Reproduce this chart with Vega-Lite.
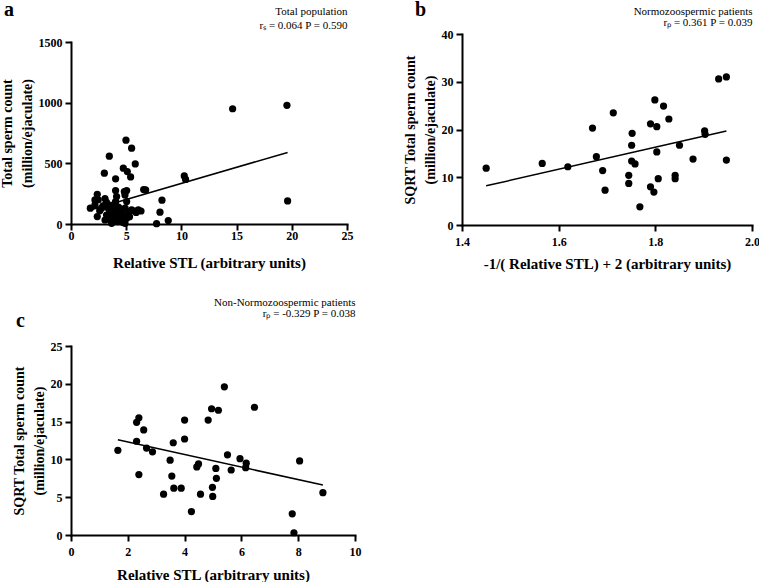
{
  "$schema": "https://vega.github.io/schema/vega-lite/v6.json",
  "background": "white",
  "padding": {"left": 0, "top": 0, "right": 0, "bottom": 0},
  "datasets": {
    "a": [
      {"stl": 14.64, "count": 950}, {"stl": 19.56, "count": 978}, {"stl": 19.62, "count": 190},
      {"stl": 4.98, "count": 691}, {"stl": 5.49, "count": 625}, {"stl": 3.47, "count": 559},
      {"stl": 5.82, "count": 495}, {"stl": 3.02, "count": 419}, {"stl": 4.74, "count": 460},
      {"stl": 5.10, "count": 432}, {"stl": 5.40, "count": 388}, {"stl": 4.04, "count": 372},
      {"stl": 10.26, "count": 396}, {"stl": 10.38, "count": 367}, {"stl": 6.58, "count": 284},
      {"stl": 6.76, "count": 281}, {"stl": 4.04, "count": 276}, {"stl": 5.04, "count": 276},
      {"stl": 4.83, "count": 268}, {"stl": 2.38, "count": 245}, {"stl": 4.89, "count": 240},
      {"stl": 8.24, "count": 196}, {"stl": 3.08, "count": 210}, {"stl": 2.17, "count": 198},
      {"stl": 2.47, "count": 200}, {"stl": 4.04, "count": 185}, {"stl": 5.04, "count": 185},
      {"stl": 4.13, "count": 226}, {"stl": 1.75, "count": 130}, {"stl": 2.77, "count": 130},
      {"stl": 8.06, "count": 97}, {"stl": 2.38, "count": 61}, {"stl": 7.75, "count": 3},
      {"stl": 8.81, "count": 28}, {"stl": 2.17, "count": 157}, {"stl": 3.38, "count": 130},
      {"stl": 3.68, "count": 152}, {"stl": 3.22, "count": 74}, {"stl": 3.38, "count": 41},
      {"stl": 3.83, "count": 53}, {"stl": 3.68, "count": 107}, {"stl": 4.04, "count": 116},
      {"stl": 3.98, "count": 171}, {"stl": 4.22, "count": 20}, {"stl": 4.44, "count": 69},
      {"stl": 4.58, "count": 33}, {"stl": 4.89, "count": 74}, {"stl": 5.04, "count": 47},
      {"stl": 5.25, "count": 97}, {"stl": 5.49, "count": 116}, {"stl": 5.80, "count": 107},
      {"stl": 6.10, "count": 116}, {"stl": 6.34, "count": 107}, {"stl": 4.89, "count": 6},
      {"stl": 3.68, "count": 6}, {"stl": 4.44, "count": 88}, {"stl": 3.08, "count": 33},
      {"stl": 2.9, "count": 150}, {"stl": 3.5, "count": 100}, {"stl": 4.3, "count": 140},
      {"stl": 3.9, "count": 60}, {"stl": 4.6, "count": 120}, {"stl": 3.2, "count": 180},
      {"stl": 5.3, "count": 60}, {"stl": 4.7, "count": 15}, {"stl": 3.6, "count": 85},
      {"stl": 2.6, "count": 110}, {"stl": 5.9, "count": 95}, {"stl": 4.1, "count": 95},
      {"stl": 3.3, "count": 165}, {"stl": 4.9, "count": 130}
    ],
    "fit_a": [{"stl": 1.75, "count": 116}, {"stl": 19.62, "count": 590}],
    "b": [
      {"inv": 1.450, "sq": 11.9}, {"inv": 1.566, "sq": 12.9}, {"inv": 1.619, "sq": 12.2},
      {"inv": 1.670, "sq": 20.3}, {"inv": 1.678, "sq": 14.3}, {"inv": 1.691, "sq": 11.4},
      {"inv": 1.696, "sq": 7.3}, {"inv": 1.713, "sq": 23.5}, {"inv": 1.745, "sq": 10.4},
      {"inv": 1.745, "sq": 8.7}, {"inv": 1.752, "sq": 19.2}, {"inv": 1.751, "sq": 16.7},
      {"inv": 1.751, "sq": 13.4}, {"inv": 1.758, "sq": 12.8}, {"inv": 1.768, "sq": 3.8},
      {"inv": 1.790, "sq": 21.2}, {"inv": 1.799, "sq": 26.2}, {"inv": 1.803, "sq": 20.6},
      {"inv": 1.790, "sq": 8.0}, {"inv": 1.797, "sq": 6.9}, {"inv": 1.803, "sq": 15.3},
      {"inv": 1.806, "sq": 9.7}, {"inv": 1.817, "sq": 24.9}, {"inv": 1.828, "sq": 22.2},
      {"inv": 1.850, "sq": 16.7}, {"inv": 1.841, "sq": 10.4}, {"inv": 1.841, "sq": 9.7},
      {"inv": 1.878, "sq": 13.8}, {"inv": 1.902, "sq": 19.7}, {"inv": 1.903, "sq": 19.0},
      {"inv": 1.931, "sq": 30.6}, {"inv": 1.947, "sq": 31.0}, {"inv": 1.947, "sq": 13.6}
    ],
    "fit_b": [{"inv": 1.45, "sq": 8.2}, {"inv": 1.947, "sq": 19.7}],
    "c": [
      {"stl": 1.65, "sq": 11.2}, {"stl": 2.31, "sq": 14.9}, {"stl": 2.39, "sq": 15.5},
      {"stl": 2.31, "sq": 12.4}, {"stl": 2.39, "sq": 8.0}, {"stl": 2.56, "sq": 13.9},
      {"stl": 2.66, "sq": 11.5}, {"stl": 2.87, "sq": 11.0}, {"stl": 3.26, "sq": 5.4},
      {"stl": 3.49, "sq": 9.9}, {"stl": 3.55, "sq": 7.8}, {"stl": 3.60, "sq": 12.2},
      {"stl": 3.62, "sq": 6.2}, {"stl": 3.88, "sq": 6.2}, {"stl": 4.00, "sq": 15.2},
      {"stl": 4.00, "sq": 12.7}, {"stl": 4.24, "sq": 3.1}, {"stl": 4.43, "sq": 9.0},
      {"stl": 4.49, "sq": 9.4}, {"stl": 4.56, "sq": 5.4}, {"stl": 4.83, "sq": 15.2},
      {"stl": 4.95, "sq": 16.7}, {"stl": 5.19, "sq": 16.5}, {"stl": 4.98, "sq": 6.3},
      {"stl": 4.99, "sq": 5.1}, {"stl": 5.10, "sq": 8.8}, {"stl": 5.12, "sq": 7.5},
      {"stl": 5.40, "sq": 19.6}, {"stl": 5.51, "sq": 10.6}, {"stl": 5.64, "sq": 8.6},
      {"stl": 5.95, "sq": 10.1}, {"stl": 6.17, "sq": 9.5}, {"stl": 6.15, "sq": 8.9},
      {"stl": 6.46, "sq": 16.9}, {"stl": 7.79, "sq": 2.8}, {"stl": 8.05, "sq": 9.8},
      {"stl": 8.87, "sq": 5.6}, {"stl": 7.85, "sq": 0.3}
    ],
    "fit_c": [{"stl": 1.65, "sq": 12.6}, {"stl": 8.87, "sq": 6.6}]
  },
  "concat": [
    {
      "concat": [
        {
          "title": {"text": "a", "anchor": "start", "frame": "bounds", "dy": 19, "dx": 4},
          "width": 276, "height": 190,
          "layer": [
            {
              "data": {"name": "a"},
              "mark": {"type": "circle", "size": 52, "color": "black", "opacity": 1},
              "encoding": {
                "x": {"field": "stl", "type": "quantitative", "scale": {"domain": [0, 25], "nice": false},
                      "axis": {"values": [0, 5, 10, 15, 20, 25], "labelPadding": 0, "titlePadding": 14,
                               "title": "Relative STL (arbitrary units)"}},
                "y": {"field": "count", "type": "quantitative", "scale": {"domain": [0, 1500], "nice": false, "range": [190, 8]},
                      "axis": {"values": [0, 500, 1000, 1500], "format": "d", "title": ["Total sperm count", "(million/ejaculate)"]}}
              }
            },
            {
              "data": {"name": "fit_a"},
              "mark": {"type": "line", "color": "black", "strokeWidth": 1.5},
              "encoding": {
                "x": {"field": "stl", "type": "quantitative",
                      "axis": {"orient": "top", "labels": false, "ticks": false, "domain": false,
                               "title": ["Total population", "rₛ = 0.064 P = 0.590"],
                               "titleAnchor": "end", "titleAlign": "right", "titleFontWeight": "normal",
                               "titleFontSize": 11, "titleLineHeight": 14, "titlePadding": 4}},
                "y": {"field": "count", "type": "quantitative",
                      "axis": {"values": [0, 500, 1000, 1500], "format": "d", "title": ["Total sperm count", "(million/ejaculate)"]}}
              }
            }
          ],
          "resolve": {"axis": {"x": "independent"}}
        },
        {
          "title": {"text": "b", "anchor": "start", "frame": "bounds", "dy": 19, "dx": 12},
          "width": 290, "height": 191,
          "layer": [
            {
              "data": {"name": "b"},
              "mark": {"type": "circle", "size": 52, "color": "black", "opacity": 1},
              "encoding": {
                "x": {"field": "inv", "type": "quantitative", "scale": {"domain": [1.4, 2.0], "nice": false, "zero": false},
                      "axis": {"values": [1.4, 1.6, 1.8, 2.0], "format": ".1f", "labelPadding": 5, "titlePadding": 9,
                               "title": "-1/( Relative STL) + 2 (arbitrary units)"}},
                "y": {"field": "sq", "type": "quantitative", "scale": {"domain": [0, 40], "nice": false},
                      "axis": {"values": [0, 10, 20, 30, 40], "title": ["SQRT Total sperm count", "(million/ejaculate)"]}}
              }
            },
            {
              "data": {"name": "fit_b"},
              "mark": {"type": "line", "color": "black", "strokeWidth": 1.5},
              "encoding": {
                "x": {"field": "inv", "type": "quantitative",
                      "axis": {"orient": "top", "labels": false, "ticks": false, "domain": false,
                               "title": ["Normozoospermic patients", "rₚ = 0.361 P = 0.039"],
                               "titleAnchor": "end", "titleAlign": "right", "titleFontWeight": "normal",
                               "titleFontSize": 11, "titleLineHeight": 11, "titlePadding": 7}},
                "y": {"field": "sq", "type": "quantitative",
                      "axis": {"values": [0, 10, 20, 30, 40], "title": ["SQRT Total sperm count", "(million/ejaculate)"]}}
              }
            }
          ],
          "resolve": {"axis": {"x": "independent"}}
        }
      ],
      "columns": 2,
      "align": "none",
      "spacing": 50
    },
    {
      "title": {"text": "c", "anchor": "start", "frame": "bounds", "dy": 39, "dx": 4},
      "width": 284, "height": 189,
      "layer": [
        {
          "data": {"name": "c"},
          "mark": {"type": "circle", "size": 52, "color": "black", "opacity": 1},
          "encoding": {
            "x": {"field": "stl", "type": "quantitative", "scale": {"domain": [0, 10], "nice": false},
                  "axis": {"values": [0, 2, 4, 6, 8, 10], "labelPadding": 5, "titlePadding": 10,
                           "title": "Relative STL (arbitrary units)"}},
            "y": {"field": "sq", "type": "quantitative", "scale": {"domain": [0, 25], "nice": false},
                  "axis": {"values": [0, 5, 10, 15, 20, 25], "title": ["SQRT Total sperm count", "(million/ejaculate)"]}}
          }
        },
        {
          "data": {"name": "fit_c"},
          "mark": {"type": "line", "color": "black", "strokeWidth": 1.5},
          "encoding": {
            "x": {"field": "stl", "type": "quantitative",
                  "axis": {"orient": "top", "labels": false, "ticks": false, "domain": false,
                           "title": ["Non-Normozoospermic patients", "rₚ = -0.329 P = 0.038"],
                           "titleAnchor": "end", "titleAlign": "right", "titleFontWeight": "normal",
                           "titleFontSize": 11, "titleLineHeight": 11, "titlePadding": 28}},
            "y": {"field": "sq", "type": "quantitative",
                  "axis": {"values": [0, 5, 10, 15, 20, 25], "title": ["SQRT Total sperm count", "(million/ejaculate)"]}}
          }
        }
      ],
      "resolve": {"axis": {"x": "independent"}}
    }
  ],
  "columns": 1,
  "align": "none",
  "spacing": 25,
  "config": {
    "view": {"stroke": null},
    "font": "Liberation Serif",
    "title": {"font": "Liberation Serif", "fontSize": 20, "fontWeight": "bold", "color": "black", "offset": 0},
    "axis": {
      "grid": false,
      "labelFont": "Liberation Serif", "labelFontWeight": "bold", "labelFontSize": 12, "labelColor": "black",
      "labelFlush": false, "labelOverlap": false, "labelPadding": 3,
      "titleFont": "Liberation Serif", "titleFontWeight": "bold", "titleFontSize": 15, "titleColor": "black",
      "titlePadding": 6,
      "domainColor": "black", "domainWidth": 2, "domainCap": "square",
      "tickColor": "black", "tickWidth": 2, "tickSize": 6
    },
    "axisY": {"titleFontSize": 14, "titleLineHeight": 20, "titlePadding": 4}
  }
}
